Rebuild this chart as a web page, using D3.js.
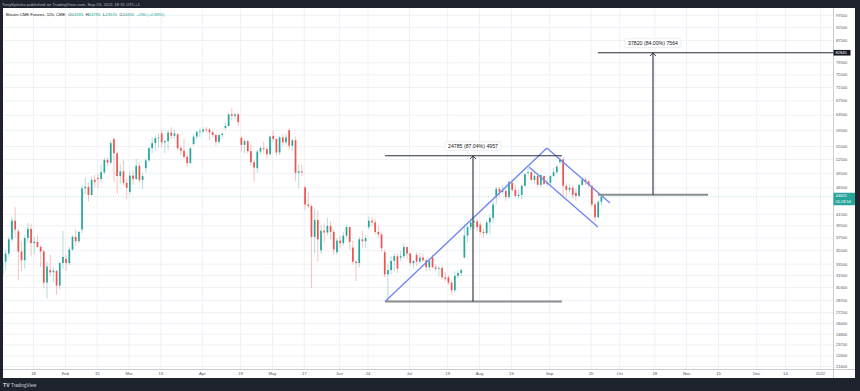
<!DOCTYPE html>
<html><head><meta charset="utf-8">
<script src="https://cdn.jsdelivr.net/npm/d3@7"></script>
<style>html,body{margin:0;padding:0;background:#1e222d;overflow:hidden}svg{display:block}</style>
</head><body>
<svg id="c" width="860" height="391"></svg>
<script>
// Bitcoin CME Futures, daily candles by trading day (index 0 = 2021-01-04), values in thousands USD
const open = [
 32.0,33.8,35.0,37.2,40.3, 38.5,35.3,34.0,37.4,38.9, 36.6,36.8,36.0,35.3,30.9, 32.6,32.3,32.5,30.5,33.6,
 34.2,33.6,35.6,37.6,36.9, 38.8,46.3,46.6,45.0,48.0, 48.4,48.2,49.6,52.3,51.7, 57.2,53.8,48.8,49.8,47.4,
 45.6,48.9,48.2,51.0,48.0, 50.5,52.2,55.0,56.2,57.4, 58.6,56.4,56.7,58.8,58.0, 58.4,55.0,54.4,53.0,51.6,
 56.0,57.8,59.0,59.1,59.6, 59.6,58.9,58.2,56.5,58.2, 60.0,60.5,63.6,63.2,63.6, 57.5,55.8,56.7,54.3,51.8,
 50.5,54.2,55.0,54.8,53.6, 58.0,57.2,54.0,57.6,56.4, 59.4,55.6,56.9,49.5,49.8, 46.5,43.2,42.9,37.6,40.4,
 35.5,38.6,38.3,39.4,38.4, 35.2,37.0,36.6,37.8,39.2, 35.9,33.8,33.6,37.2,36.9, 39.2,40.3,40.0,38.4,38.0,
 35.2,32.0,32.6,33.9,34.6, 34.4,34.6,36.0,35.0,33.6, 34.8,33.8,34.4,34.0,33.0, 34.4,33.0,32.8,32.9,31.6,
 31.6,30.9,29.9,31.8,32.2, 34.4,37.8,39.2,40.0,40.2, 39.6,38.4,38.2,40.0,40.8, 44.5,46.2,45.6,45.8,44.6,
 47.4,46.0,44.8,45.0,46.8, 49.4,49.6,48.0,48.8,47.0, 48.8,47.2,47.4,48.8,49.6, 51.8,52.4,46.8,46.0,46.4,
 45.4,44.8,47.0,48.1,47.7, 46.8,43.2,40.9,43.7];
const high = [
 34.2,35.6,37.6,41.0,42.7, 38.9,36.8,37.9,39.9,39.8, 37.6,37.9,36.3,35.6,33.8, 34.8,33.0,32.6,33.8,38.6,
 34.9,36.0,37.9,38.8,38.6, 46.9,48.5,47.5,48.7,49.0, 49.2,51.3,52.8,52.9,56.8, 57.6,54.2,51.3,52.2,48.4,
 49.8,50.0,52.5,51.9,49.5, 52.6,55.3,57.6,58.2,58.5, 59.6,57.0,59.4,60.2,59.6, 58.6,55.6,57.3,53.6,55.2,
 58.4,59.3,59.9,60.2,60.3, 60.0,59.4,58.6,58.4,58.9, 61.3,64.0,65.4,63.9,63.9, 58.0,57.2,57.0,55.8,52.3,
 54.6,55.5,56.5,55.2,58.1, 59.4,57.4,58.0,58.4,58.6, 60.0,57.3,57.8,51.3,51.2, 46.9,45.6,43.2,42.4,42.1,
 39.6,39.8,40.8,40.2,38.8, 37.4,37.8,38.4,39.6,39.3, 37.0,34.0,37.6,38.6,37.9, 41.0,40.9,40.6,39.5,38.3,
 35.6,33.5,34.6,35.0,35.0, 35.4,36.6,36.0,35.1,34.0, 35.2,35.1,35.0,34.1,34.2, 34.8,33.4,33.2,33.2,32.3,
 31.9,31.2,32.4,32.5,32.8, 39.8,39.5,40.8,40.6,40.6, 40.2,38.9,40.4,41.4,43.8, 46.6,46.6,46.9,46.2,48.0,
 48.0,47.0,46.0,47.0,49.4, 50.6,49.9,49.3,49.0,49.2, 48.9,48.3,49.0,50.6,51.2, 53.2,52.9,47.3,47.2,47.0,
 46.2,47.2,48.4,48.5,48.0, 47.0,43.6,44.0,44.795];
const low = [
 30.5,32.6,34.5,36.8,37.5, 31.2,32.5,32.8,36.8,34.6, 34.9,35.8,33.0,30.2,28.9, 31.8,30.9,29.3,30.0,32.8,
 32.5,33.3,35.4,36.2,36.6, 38.2,45.2,43.8,44.9,46.5, 46.4,47.5,49.2,50.8,51.4, 47.6,45.2,47.2,46.9,44.2,
 45.0,47.0,48.0,47.5,46.2, 49.5,51.9,53.8,54.4,55.2, 55.2,53.8,54.6,57.2,57.3, 54.5,53.4,52.6,50.8,51.4,
 55.6,57.2,57.6,58.6,58.8, 56.9,57.7,55.6,56.0,57.3, 59.5,60.3,62.0,62.3,60.5, 54.2,53.8,53.7,51.0,47.6,
 49.5,53.6,53.8,52.6,53.4, 56.6,53.2,53.4,55.4,55.8, 54.6,54.3,47.8,46.3,48.8, 42.2,42.5,30.2,35.0,33.8,
 34.9,36.6,37.8,37.2,34.8, 34.8,35.8,36.2,37.4,35.6, 33.4,31.1,33.0,35.9,35.8, 38.8,39.4,38.0,37.5,35.3,
 31.6,28.475,32.0,32.4,32.2, 33.9,34.3,34.2,33.2,32.8, 33.2,33.5,33.8,32.4,32.5, 32.9,32.4,31.7,31.3,31.1,
 30.6,29.3,29.6,31.4,31.8, 34.2,36.6,38.6,38.9,38.5, 38.0,37.5,37.8,38.0,40.0, 43.2,44.6,45.2,43.9,44.3,
 45.6,44.4,44.4,44.2,46.6, 49.0,47.8,47.2,46.6,46.6, 46.9,46.8,47.0,48.6,49.2, 51.4,44.4,44.6,45.6,44.4,
 43.9,44.6,46.8,47.0,46.6, 42.8,40.1,40.6,43.1];
const close = [
 33.8,35.0,37.2,40.3,38.8, 35.3,34.0,37.4,38.9,36.6, 36.8,36.0,35.3,30.9,33.1, 32.3,32.5,30.5,33.6,34.5,
 33.6,35.6,37.6,36.9,38.4, 46.3,46.6,45.0,48.0,47.6, 48.2,49.6,52.3,51.7,56.2, 53.8,48.8,49.8,47.4,46.4,
 48.9,48.2,51.0,48.0,48.8, 52.2,55.0,56.2,57.4,57.6, 56.4,56.7,58.8,58.0,58.6, 55.0,54.4,53.0,51.6,55.0,
 57.8,59.0,59.1,59.6,59.4, 58.9,58.2,56.5,58.2,58.5, 60.5,63.6,63.2,63.6,61.5, 55.8,56.7,54.3,51.8,50.6,
 54.2,55.0,54.8,53.6,57.8, 57.2,54.0,57.6,56.4,57.6, 55.6,56.9,49.5,49.8,49.6, 43.2,42.9,37.6,40.4,37.2,
 38.6,38.3,39.4,38.4,35.6, 37.0,36.6,37.8,39.2,36.8, 33.8,33.6,37.2,36.9,37.4, 40.3,40.0,38.4,38.0,35.8,
 32.0,32.6,33.9,34.6,32.8, 34.6,36.0,35.0,33.6,33.9, 33.8,34.4,34.0,33.0,33.9, 33.0,32.8,32.9,31.6,31.4,
 30.9,29.9,31.8,32.2,32.6, 37.8,39.2,40.0,40.2,39.2, 38.4,38.2,40.0,40.8,43.2, 46.2,45.6,45.8,44.6,47.6,
 46.0,44.8,45.0,46.8,49.2, 49.6,48.0,48.8,47.0,49.0, 47.2,47.4,48.8,49.6,50.8, 52.4,46.8,46.0,46.4,45.0,
 44.8,47.0,48.1,47.7,47.0, 43.2,40.9,43.7,44.655];

// price axis labels
const yTicks = [97500,92500,87500,79500,75500,71500,67500,63500,59500,55500,52500,49500,46500,
  41500,39500,37500,35500,33500,31900,30300,28700,27200,26000,24800,23700,22600,21600];
// time axis labels (trading-day index)
const xTickIdx = [10,20,30,40,50,63,75,85,95,106,115,128,140,150,160,172,185,194,205,215,225,237,246,257];
const xTickLabels = ["18","Feb","15","Mar","15","Apr","19","May","17","Jun","14","Jul","19","Aug","16","Sep","20","Oct","18","Nov","15","Dec","14","2022"];

// drawings (trading-day index, price)
const channelUp = [[120.5, 28475],[171.3, 55040]];
const channelTop = [[171.3, 55040],[191.1, 43470]];
const channelBottom = [[165.7, 50740],[187.3, 39220]];
const range1 = {from:120.5, to:176.0, at:148.1, low:28475, high:53260, label:"24785 (87.04%) 4957"};
const range2 = {from:187.3, to:221.9, at:204.6, low:45025, high:82845, label:"37820 (84.00%) 7564"};
const legendName = "Bitcoin CME Futures, 12h, CME";
const legendVals = [["O","44185"],["H","44795"],["L","43570"],["C","44655"]];
const legendChange = "+390 (+0.88%)";

const svg = d3.select("#c");
const W=860,H=391;
const P = {l:3, r:833, t:8, b:369};
const FONT = "'Liberation Sans', Arial, sans-serif";
const up="#26a69a", down="#ef5350";

const x = d3.scaleLinear().domain([0,257]).range([1.14, 819.94]);
const y = d3.scaleLog().domain([21600,87500]).range([366,40]);

svg.append("rect").attr("width",W).attr("height",H).attr("fill","#1e222d");
svg.append("rect").attr("x",P.l).attr("y",P.t).attr("width",855-P.l).attr("height",378-P.t).attr("fill","#ffffff");

svg.append("clipPath").attr("id","clip").append("rect")
  .attr("x",P.l).attr("y",P.t).attr("width",P.r-P.l).attr("height",P.b-P.t);

// grid
const grid = svg.append("g").attr("clip-path","url(#clip)");
grid.append("g").attr("transform",`translate(${P.l},0)`)
  .call(d3.axisRight(y).tickValues(yTicks).tickSize(P.r-P.l).tickFormat(""))
  .call(g=>g.select(".domain").remove())
  .call(g=>g.selectAll("line").attr("stroke","#eef1f7").attr("stroke-width",1));
grid.append("g").attr("transform",`translate(0,${P.t})`)
  .call(d3.axisBottom(x).tickValues(xTickIdx).tickSize(P.b-P.t).tickFormat(""))
  .call(g=>g.select(".domain").remove())
  .call(g=>g.selectAll("line").attr("stroke","#eef1f7").attr("stroke-width",1));

const plot = svg.append("g").attr("clip-path","url(#clip)");

// current price line
const last = close[close.length-1]*1000;
plot.append("line").attr("x1",P.l).attr("x2",P.r).attr("y1",y(last)).attr("y2",y(last))
  .attr("stroke",up).attr("stroke-opacity",0.4).attr("stroke-width",0.8).attr("stroke-dasharray","1,1.5");

// candles
const candles = close.map((c,i)=>({i,o:open[i]*1000,h:high[i]*1000,l:low[i]*1000,c:c*1000}));
const cx = d=>x(d.i+0.4);
plot.append("g").selectAll("line").data(candles).join("line")
  .attr("x1",cx).attr("x2",cx).attr("y1",d=>y(d.h)).attr("y2",d=>y(d.l))
  .attr("stroke",d=>d.c>=d.o?up:down).attr("stroke-width",0.8).attr("stroke-opacity",0.45);
plot.append("g").selectAll("rect").data(candles).join("rect")
  .attr("x",d=>cx(d)-0.85).attr("width",1.7)
  .attr("y",d=>y(Math.max(d.o,d.c)))
  .attr("height",d=>Math.max(0.8,Math.abs(y(d.o)-y(d.c))))
  .attr("fill",d=>d.c>=d.o?up:down);

// channel lines
const line = d3.line().x(d=>x(d[0])).y(d=>y(d[1]));
[channelUp,channelTop,channelBottom].forEach(pts=>{
  plot.append("path").attr("d",line(pts)).attr("fill","none")
    .attr("stroke","#7089ee").attr("stroke-width",1.4);
});

// price ranges
function drawRange(r, extendTop){
  const yl=y(r.low), yh=y(r.high), ax=x(r.at);
  plot.append("line").attr("x1",x(r.from)).attr("x2",x(r.to)).attr("y1",yl).attr("y2",yl)
    .attr("stroke","#8a8c90").attr("stroke-width",2);
  plot.append("line").attr("x1",x(r.from)).attr("x2",extendTop?P.r:x(r.to)).attr("y1",yh).attr("y2",yh)
    .attr("stroke","#2a2e39").attr("stroke-width",1.1);
  plot.append("line").attr("x1",ax).attr("x2",ax).attr("y1",yl).attr("y2",yh)
    .attr("stroke","#2a2e39").attr("stroke-width",1.1);
  plot.append("path").attr("d",`M${ax-3},${yh+3.2}L${ax},${yh+0.3}L${ax+3},${yh+3.2}`)
    .attr("fill","none").attr("stroke","#2a2e39").attr("stroke-width",0.9);
  const lg = svg.append("g");
  const t = lg.append("text").attr("x",ax).attr("y",yh-9.6).attr("text-anchor","middle")
    .attr("dominant-baseline","central").attr("font-family",FONT).attr("font-size",5.2)
    .attr("fill","#131722").text(r.label);
  const w = t.node().getComputedTextLength()+6;
  lg.insert("rect","text").attr("x",ax-w/2).attr("y",yh-14).attr("width",w).attr("height",8.8)
    .attr("rx",1.5).attr("fill","#fff").attr("stroke","#e0e3eb").attr("stroke-width",0.6);
}
drawRange(range1,false);
drawRange(range2,true);

// axes borders
svg.append("line").attr("x1",P.r+0.5).attr("x2",P.r+0.5).attr("y1",P.t).attr("y2",378).attr("stroke","#c9ccd3").attr("stroke-width",1);
svg.append("line").attr("x1",P.l).attr("x2",855).attr("y1",P.b+0.5).attr("y2",P.b+0.5).attr("stroke","#c9ccd3").attr("stroke-width",1);

// price axis
svg.append("g").attr("transform",`translate(${P.r},0)`)
  .call(d3.axisRight(y).tickValues(yTicks).tickSize(0).tickPadding(3).tickFormat(d3.format("d")))
  .call(g=>g.select(".domain").remove())
  .call(g=>g.selectAll("text").attr("font-family",FONT).attr("font-size",4).attr("fill","#50535e"));

// time axis
svg.append("g").attr("transform",`translate(0,${P.b})`)
  .call(d3.axisBottom(x).tickValues(xTickIdx).tickSize(0).tickPadding(3.3).tickFormat((d,i)=>xTickLabels[i]))
  .call(g=>g.select(".domain").remove())
  .call(g=>g.selectAll("text").attr("font-family",FONT).attr("font-size",4.2).attr("fill","#50535e"));

// highlighted price labels
const yt = y(range2.high);
svg.append("rect").attr("x",P.r+0.5).attr("y",yt-2.8).attr("width",17).attr("height",5.6).attr("fill","#131722");
svg.append("text").attr("x",P.r+2.5).attr("y",yt).attr("dominant-baseline","central")
  .attr("font-family",FONT).attr("font-size",4).attr("fill","#fff").text(d3.format("d")(range2.high));
const yc = y(last);
svg.append("rect").attr("x",P.r+0.5).attr("y",yc-4).attr("width",21.5).attr("height",12.5).attr("fill",up);
svg.append("text").attr("x",P.r+2.5).attr("y",yc-0.8).attr("dominant-baseline","central")
  .attr("font-family",FONT).attr("font-size",4).attr("fill","#fff").text(d3.format("d")(Math.round(last)));
svg.append("text").attr("x",P.r+2.5).attr("y",yc+4.8).attr("dominant-baseline","central")
  .attr("font-family",FONT).attr("font-size",4).attr("fill","#fff").text("05:28:56");

// header
svg.append("text").attr("x",2).attr("y",5.6).attr("font-family",FONT).attr("font-size",4.3)
  .attr("fill","#b2b5be").text("TonySpilotro published on TradingView.com, Sep 23, 2021 18:31 UTC+1");
const lt = svg.append("text").attr("x",6).attr("y",16).attr("font-family",FONT).attr("font-size",4.2).attr("fill","#131722");
lt.append("tspan").text(legendName);
legendVals.forEach((v,i)=>{
  lt.append("tspan").attr("dx",i===0?3:2.5).attr("fill","#131722").text(v[0]);
  lt.append("tspan").attr("fill",up).text(v[1]);
});
lt.append("tspan").attr("dx",2.5).attr("fill",up).text(legendChange);

// footer logo
svg.append("text").attr("x",3).attr("y",386.5).attr("font-family",FONT).attr("font-size",5.2)
  .attr("font-weight","bold").attr("fill","#d1d4dc").text("TV");
svg.append("text").attr("x",11).attr("y",386.5).attr("font-family",FONT).attr("font-size",4.6)
  .attr("fill","#d1d4dc").text("TradingView");
</script>
</body></html>
